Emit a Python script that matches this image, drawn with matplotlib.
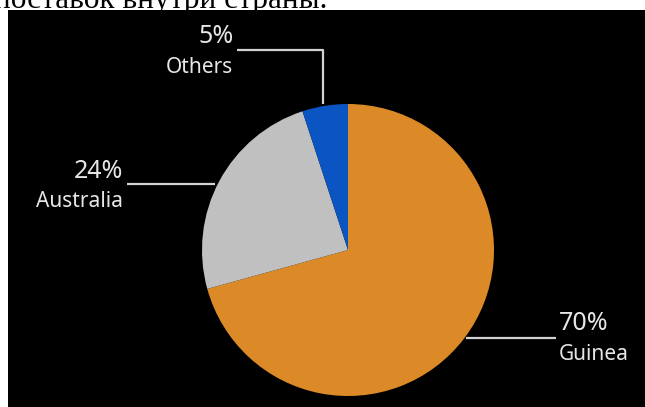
import matplotlib
matplotlib.use("Agg")
import matplotlib.pyplot as plt
from matplotlib.patches import Rectangle

# Data
categories = ["Guinea", "Australia", "Others"]
shares = [70, 24, 5]
pct_labels = ["70%", "24%", "5%"]
colors = ["#DB8A27", "#C0C0C0", "#0A55C2"]

W, H = 645, 407
fig = plt.figure(figsize=(W / 100, H / 100), dpi=100)
fig.patch.set_facecolor("white")

ax = fig.add_axes([0, 0, 1, 1])
ax.set_facecolor("white")

def Y(y):
    return H - y

# black panel
ax.add_patch(Rectangle((8, Y(407)), W - 8, 407 - 10, facecolor="black", edgecolor="none", zorder=0))

# cut-off caption text at top
ax.text(-6, Y(8), "поставок внутри страны.", family="Liberation Serif", fontsize=22.5,
        color="black", ha="left", va="baseline", zorder=1)

cx, cy, r = 348, 250, 146
ax.pie(shares, colors=colors, startangle=90, counterclock=False,
       center=(cx, Y(cy)), radius=r, frame=True,
       wedgeprops=dict(linewidth=0, antialiased=True))

txt_col = "#E6E6E6"
line_col = "#D2D2D2"
lw = 1.6
pct_fs = 18
lab_fs = 15
fam = "Noto Sans"

# Others
ax.plot([237, 323, 323], [Y(50), Y(50), Y(104)], color=line_col, lw=lw, solid_capstyle="butt")
ax.text(234, Y(43), pct_labels[2], ha="right", va="baseline", color=txt_col, fontsize=pct_fs, family=fam)
ax.text(233, Y(73), categories[2], ha="right", va="baseline", color=txt_col, fontsize=lab_fs, family=fam)

# Australia
ax.plot([127, 215], [Y(184), Y(184)], color=line_col, lw=lw, solid_capstyle="butt")
ax.text(123, Y(178), pct_labels[1], ha="right", va="baseline", color=txt_col, fontsize=pct_fs, family=fam)
ax.text(123, Y(207), categories[1], ha="right", va="baseline", color=txt_col, fontsize=lab_fs, family=fam)

# Guinea
ax.plot([466, 556], [Y(338), Y(338)], color=line_col, lw=lw, solid_capstyle="butt")
ax.text(559, Y(330), pct_labels[0], ha="left", va="baseline", color=txt_col, fontsize=pct_fs, family=fam)
ax.text(559, Y(360), categories[0], ha="left", va="baseline", color=txt_col, fontsize=lab_fs, family=fam)

ax.set_xlim(0, W)
ax.set_ylim(0, H)
ax.set_aspect("auto")
ax.axis("off")

fig.savefig("out.png", dpi=100, facecolor="white")
